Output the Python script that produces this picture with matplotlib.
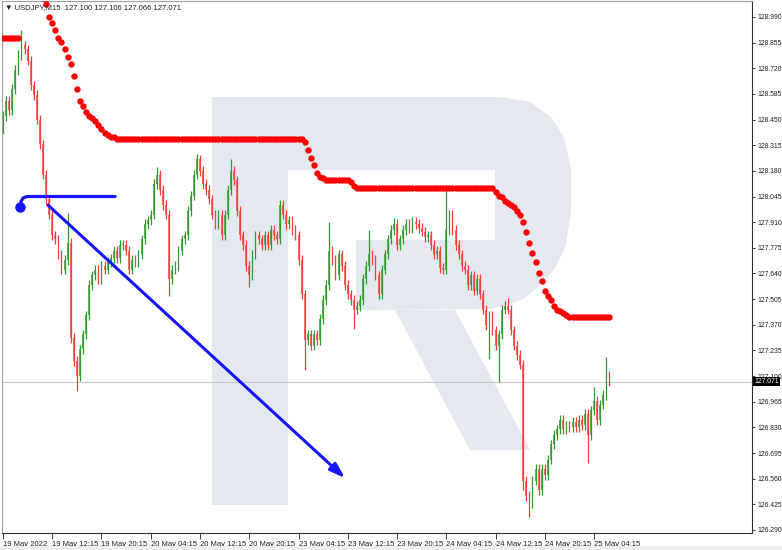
import matplotlib
matplotlib.use("Agg")
import matplotlib.pyplot as plt
from matplotlib.patches import Polygon, Rectangle

# -------------------------------------------------------------
# Data (30-minute bars)
# -------------------------------------------------------------
symbol_line = "USDJPY,M15  127.100 127.106 127.066 127.071"

x_labels = ["19 May 2022", "19 May 12:15", "19 May 20:15", "20 May 04:15",
            "20 May 12:15", "20 May 20:15", "23 May 04:15", "23 May 12:15",
            "23 May 20:15", "24 May 04:15", "24 May 12:15", "24 May 20:15",
            "25 May 04:15"]
bars_per_label = 16

y_tick_labels = ["128.990", "128.855", "128.720", "128.585", "128.450", "128.315",
                 "128.180", "128.045", "127.910", "127.775", "127.640", "127.505",
                 "127.370", "127.235", "127.100", "126.965", "126.830", "126.695",
                 "126.560", "126.425", "126.290"]

first_open = 128.40
closes = [
    128.47, 128.55, 128.50, 128.61, 128.71, 128.79, 128.84, 128.82, 128.76, 128.63,
    128.58, 128.45, 128.32, 128.16, 128.03, 127.95, 127.84, 127.82, 127.74, 127.66,
    127.71, 127.80, 127.30, 127.18, 127.10, 127.24, 127.32, 127.42, 127.58, 127.63,
    127.66, 127.61, 127.68, 127.66, 127.70, 127.72, 127.76, 127.72, 127.79, 127.79,
    127.76, 127.66, 127.71, 127.70, 127.74, 127.82, 127.90, 127.92, 127.95, 128.11,
    128.16, 128.08, 128.00, 127.95, 127.61, 127.66, 127.68, 127.76, 127.82, 127.84,
    127.97, 128.05, 128.16, 128.24, 128.18, 128.11, 128.08, 128.03, 127.95, 127.90,
    127.95, 127.84, 127.95, 128.08, 128.18, 128.13, 127.97, 127.84, 127.79, 127.68,
    127.63, 127.74, 127.84, 127.82, 127.79, 127.84, 127.79, 127.87, 127.84, 127.82,
    128.00, 127.95, 127.90, 127.92, 127.87, 127.84, 127.71, 127.53, 127.29, 127.32,
    127.26, 127.32, 127.29, 127.40, 127.50, 127.58, 127.76, 127.71, 127.63, 127.74,
    127.68, 127.58, 127.53, 127.50, 127.45, 127.47, 127.50, 127.61, 127.68, 127.74,
    127.71, 127.63, 127.53, 127.66, 127.74, 127.82, 127.87, 127.90, 127.79, 127.82,
    127.87, 127.90, 127.88, 127.91, 127.90, 127.88, 127.86, 127.83, 127.84, 127.79,
    127.74, 127.76, 127.67, 127.66, 127.87, 127.95, 127.87, 127.79, 127.74, 127.68,
    127.66, 127.58, 127.63, 127.55, 127.61, 127.53, 127.45, 127.37, 127.42, 127.34,
    127.26, 127.32, 127.45, 127.47, 127.45, 127.34, 127.26, 127.21, 127.16, 126.55,
    126.47, 126.43, 126.55, 126.61, 126.50, 126.61, 126.58, 126.66, 126.74, 126.79,
    126.82, 126.87, 126.82, 126.84, 126.83, 126.86, 126.83, 126.87, 126.84, 126.90,
    126.79, 126.92, 126.97, 126.87, 126.95, 127.00, 127.10, 127.071,
]

# wick lengths beyond the candle body (price units)
base_wick = 0.025
upper_wick = {6: 0.08, 21: 0.16, 50: 0.04, 63: 0.03, 74: 0.06, 106: 0.15,
              119: 0.13, 127: 0.03, 144: 0.21, 164: 0.04, 192: 0.07, 196: 0.10}
lower_wick = {24: 0.08, 54: 0.09, 80: 0.06, 98: 0.16, 114: 0.10, 158: 0.18,
              161: 0.19, 169: 0.05, 171: 0.07, 190: 0.15}

# red dotted indicator
trend_line = (
    [128.88] * 6
    + [129.40, 129.36, 129.31, 129.27, 129.22, 129.18, 129.13, 129.09, 129.06,
       128.99, 128.96, 128.92, 128.88, 128.86, 128.82, 128.78, 128.74, 128.68,
       128.61, 128.55, 128.52, 128.49, 128.47, 128.46, 128.44, 128.42, 128.40,
       128.38, 128.37, 128.36, 128.36, 128.35]
    + [128.35] * 60
    + [128.33, 128.29, 128.25, 128.21, 128.17, 128.15, 128.14]
    + [128.13] * 8
    + [128.12, 128.10]
    + [128.09] * 45
    + [128.07, 128.05, 128.04, 128.02, 128.01, 128.00, 127.99, 127.97, 127.95,
       127.91, 127.86, 127.80, 127.75, 127.70, 127.64, 127.60, 127.55, 127.52,
       127.50, 127.47, 127.45, 127.44, 127.43, 127.42]
    + [127.41] * 14
)

last_price = 127.071

# blue drawings (bar index, price)
hook_x = [5.5, 5.9, 6.5, 7.8, 36.4]
hook_y = [127.99, 128.02, 128.037, 128.045, 128.045]
arrow_start = (14.6, 128.00)
arrow_end = (111.1, 126.563)

# -------------------------------------------------------------
# Figure
# -------------------------------------------------------------
plt.rcParams["font.family"] = ["Liberation Sans", "DejaVu Sans"]
W, H = 782, 550
fig = plt.figure(figsize=(W / 100, H / 100), dpi=100)
fig.patch.set_facecolor("white")
ax = fig.add_axes([2 / W, 17 / H, 750 / W, 532 / H])
ax.set_xlim(-0.32, 243.3)
ax.set_ylim(126.274, 129.074)

# watermark "R" (pixel outline -> axes fraction)
def px(pts):
    return [((x - 2) / 750, (533 - y) / 532) for x, y in pts]

wm = "#e4e9f1"
body_pts = [(212, 97), (500, 97), (530, 102), (552, 118), (565, 140), (571, 170),
            (571, 210), (566, 245), (555, 268), (543, 282), (525, 298), (505, 306),
            (490, 309), (356, 310), (356, 240), (495, 240), (495, 170), (288, 170),
            (288, 505), (212, 505)]
leg_pts = [(395, 310), (455, 310), (530, 450), (470, 450)]
for pts in (body_pts, leg_pts):
    ax.add_patch(Polygon(px(pts), closed=True, transform=ax.transAxes,
                         facecolor=wm, edgecolor="none", zorder=0))

ax.axhline(last_price, color="#c8c8c8", lw=0.8, zorder=1)

# candles
opens = [first_open] + closes[:-1]
xs = list(range(len(closes)))
up_c, dn_c = "#2f9a2f", "#ff3a3a"
for i, (o, c) in enumerate(zip(opens, closes)):
    col = up_c if c >= o else dn_c
    hi = max(o, c) + upper_wick.get(i, base_wick)
    lo = min(o, c) - lower_wick.get(i, base_wick)
    ax.vlines(i, lo, hi, color=col, lw=0.9, zorder=2)
    ax.bar(i, max(abs(c - o), 0.004), bottom=min(o, c), width=0.55,
           color=col, alpha=0.75, zorder=2, linewidth=0)

# red indicator dots
ax.plot(xs, trend_line, "o", ms=4.6, color="#ff0000", mec="none", zorder=4)

# blue analysis drawings
blue = "#1414ff"
ax.plot(hook_x, hook_y, color=blue, lw=2.3, solid_capstyle="round", zorder=5)
ax.plot(hook_x[0], hook_y[0], "o", ms=6.5, color=blue, zorder=5)
ax.annotate("", xy=arrow_end, xytext=arrow_start, zorder=5,
            arrowprops=dict(arrowstyle="-|>,head_length=0.9,head_width=0.3",
                            color=blue, lw=2.2, shrinkA=0, shrinkB=0))

# axes styling
ax.set_xticks([k * bars_per_label for k in range(len(x_labels))])
ax.set_xticklabels(x_labels, ha="left")
y_ticks = [float(t) for t in y_tick_labels]
ax.set_yticks(y_ticks)
ax.set_yticklabels(y_tick_labels)
ax.yaxis.tick_right()
ax.tick_params(axis="x", direction="out", length=4, pad=1.5, labelsize=5.5,
               colors="#202020", width=0.6)
ax.tick_params(axis="y", direction="out", length=2.5, pad=1.5, labelsize=4.9,
               colors="#202020", width=0.6)
for s in ("top", "left"):
    ax.spines[s].set_color("#a0a0a0")
    ax.spines[s].set_linewidth(0.8)
for s in ("right", "bottom"):
    ax.spines[s].set_color("#303030")
    ax.spines[s].set_linewidth(0.8)

ax.text(1.003, last_price, "127.071", transform=ax.get_yaxis_transform(),
        fontsize=4.9, color="white", va="center", ha="left", zorder=10,
        clip_on=False,
        bbox=dict(boxstyle="square,pad=0.2", facecolor="black", edgecolor="none"))

fig.text(5 / W, 1 - 8 / H, "\u25bc " + symbol_line, fontsize=5.5,
         color="#202020", va="center", ha="left")
fig.patches.append(Rectangle((0, 0), 1, 4 / H, transform=fig.transFigure,
                             facecolor="#eeeeee", edgecolor="none"))

fig.savefig("out.png", dpi=100)
